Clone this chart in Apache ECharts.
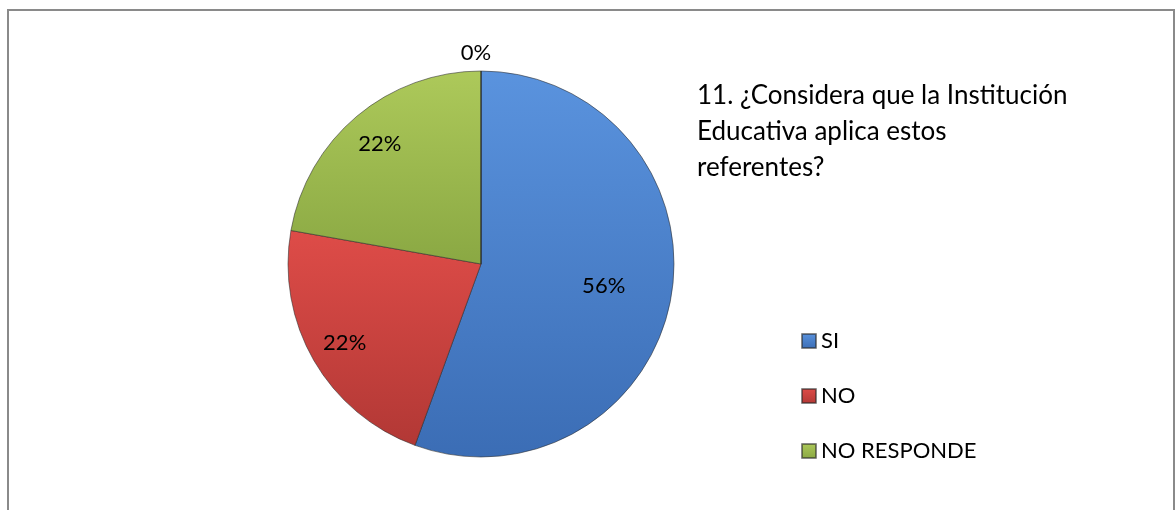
<!DOCTYPE html>
<html>
<head>
<meta charset="utf-8">
<script src="https://cdn.jsdelivr.net/npm/echarts@6/dist/echarts.min.js"></script>
<style>html,body{margin:0;padding:0;background:#fff}#c{width:1175px;height:510px}</style>
</head>
<body>
<div id="c"></div>
<script>
// Data
const categories = ['SI', 'NO', 'NO RESPONDE', ''];
const counts = [5, 2, 2, 0];
const labels = ['56%', '22%', '22%', '0%'];
const legendNames = ['SI', 'NO', 'NO RESPONDE'];
const titleText = '11. ¿Considera que la Institución\nEducativa aplica estos\nreferentes?';

const FONT = 'Lato';
const colors = [
  ['#5a93de', '#3b6db5'],
  ['#de4c48', '#b23835'],
  ['#adc95a', '#8aa843'],
  ['#cccccc', '#aaaaaa']
];
function grad(c) {
  return new echarts.graphic.LinearGradient(0, 0, 0, 1, [
    {offset: 0, color: c[0]}, {offset: 1, color: c[1]}
  ]);
}

const center = [481, 264];
const R = 193;

const mainData = categories.map((n, i) => ({
  name: n, value: counts[i],
  itemStyle: {color: grad(colors[i])}
}));

function labelData(show) {
  return categories.map((n, i) => ({
    name: n, value: counts[i],
    label: {show: show[i], formatter: labels[i]}
  }));
}

const chart = echarts.init(document.getElementById('c'));
chart.setOption({
  animation: false,
  title: {
    text: titleText, left: 697, top: 78, padding: 0,
    textStyle: {fontFamily: FONT, fontSize: 26, fontWeight: 'normal', color: '#000', lineHeight: 36}
  },
  legend: {
    data: legendNames.map((n, i) => ({name: n, itemStyle: {color: grad(colors[i])}})),
    orient: 'vertical', left: 801, top: 330, padding: 0,
    icon: 'rect', itemWidth: 14, itemHeight: 14, itemGap: 33,
    textStyle: {fontFamily: FONT, fontSize: 22, color: '#000', lineHeight: 22}
  },
  graphic: [{
    type: 'rect', shape: {x: 8, y: 10, width: 1166, height: 560},
    style: {fill: 'none', stroke: '#8a8a8a', lineWidth: 2}, silent: true
  }],
  series: [
    {
      type: 'pie', center: center, radius: [0, R], startAngle: 90, clockwise: true,
      data: mainData, label: {show: false}, labelLine: {show: false},
      itemStyle: {borderColor: 'rgba(40,40,40,0.55)', borderWidth: 1},
      emphasis: {disabled: true}
    },
    {
      // labels at ~0.8 radius for the two smaller slices
      type: 'pie', center: center, radius: [0.6 * R, R], startAngle: 90, clockwise: true,
      data: labelData([false, true, true, false]),
      itemStyle: {color: 'rgba(0,0,0,0)'},
      label: {position: 'inside', fontFamily: FONT, fontSize: 22, color: '#000'},
      labelLine: {show: false}, silent: true, emphasis: {disabled: true}
    },
    {
      // label for the large slice
      type: 'pie', center: center, radius: [0.26 * R, R], startAngle: 90, clockwise: true,
      data: labelData([true, false, false, false]),
      itemStyle: {color: 'rgba(0,0,0,0)'},
      label: {position: 'inside', fontFamily: FONT, fontSize: 22, color: '#000'},
      labelLine: {show: false}, silent: true, emphasis: {disabled: true}
    },
    {
      // outside label for the zero-value category
      type: 'pie', center: center, radius: [0, R], startAngle: 90, clockwise: true,
      data: labelData([false, false, false, true]),
      itemStyle: {color: 'rgba(0,0,0,0)'},
      label: {position: 'outside', fontFamily: FONT, fontSize: 22, color: '#000'},
      labelLine: {show: false, length: 18, length2: 0},
      labelLayout: function () { return {align: 'center'}; },
      silent: true, emphasis: {disabled: true}
    }
  ]
});
</script>
</body>
</html>
